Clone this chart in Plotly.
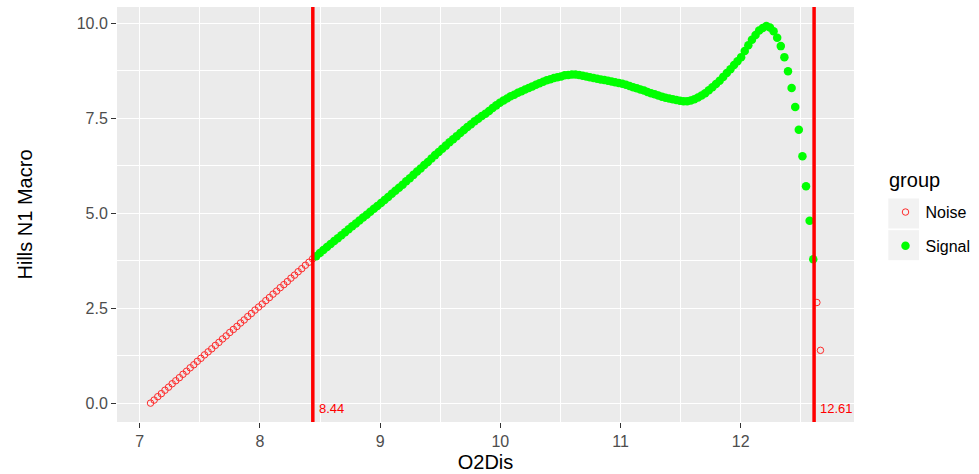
import plotly.graph_objects as go

# ---- data ----
o2dis = [
    7.090, 7.120, 7.150, 7.180, 7.210, 7.240, 7.270, 7.300, 7.330, 7.360,
    7.390, 7.420, 7.450, 7.479, 7.509, 7.539, 7.569, 7.599, 7.629, 7.659,
    7.689, 7.719, 7.749, 7.779, 7.809, 7.839, 7.869, 7.899, 7.929, 7.959,
    7.989, 8.019, 8.049, 8.079, 8.109, 8.139, 8.169, 8.199, 8.228, 8.258,
    8.288, 8.318, 8.348, 8.378, 8.408, 8.438, 8.468, 8.498, 8.528, 8.558,
    8.588, 8.618, 8.648, 8.678, 8.708, 8.738, 8.768, 8.798, 8.828, 8.858,
    8.888, 8.918, 8.948, 8.977, 9.007, 9.037, 9.067, 9.097, 9.127, 9.157,
    9.187, 9.217, 9.247, 9.277, 9.307, 9.337, 9.367, 9.397, 9.427, 9.457,
    9.487, 9.517, 9.547, 9.577, 9.607, 9.637, 9.667, 9.697, 9.726, 9.756,
    9.786, 9.816, 9.846, 9.876, 9.906, 9.936, 9.966, 9.996, 10.026, 10.056,
    10.086, 10.116, 10.146, 10.176, 10.206, 10.236, 10.266, 10.296, 10.326, 10.356,
    10.386, 10.416, 10.446, 10.475, 10.505, 10.535, 10.565, 10.595, 10.625, 10.655,
    10.685, 10.715, 10.745, 10.775, 10.805, 10.835, 10.865, 10.895, 10.925, 10.955,
    10.985, 11.015, 11.045, 11.075, 11.105, 11.135, 11.165, 11.195, 11.224, 11.254,
    11.284, 11.314, 11.344, 11.374, 11.404, 11.434, 11.464, 11.494, 11.524, 11.554,
    11.584, 11.614, 11.644, 11.674, 11.704, 11.734, 11.764, 11.794, 11.824, 11.854,
    11.884, 11.914, 11.944, 11.973, 12.003, 12.033, 12.063, 12.093, 12.123, 12.153,
    12.183, 12.213, 12.243, 12.273, 12.303, 12.333, 12.363, 12.393, 12.423, 12.453,
    12.483, 12.513, 12.543, 12.573, 12.603, 12.633, 12.663,
]

hills_n1_macro = [
    0.00, 0.08, 0.17, 0.25, 0.34, 0.42, 0.51, 0.59, 0.67, 0.76,
    0.84, 0.93, 1.01, 1.10, 1.18, 1.27, 1.35, 1.43, 1.52, 1.60,
    1.69, 1.77, 1.86, 1.94, 2.02, 2.11, 2.19, 2.28, 2.36, 2.45,
    2.53, 2.61, 2.70, 2.78, 2.87, 2.95, 3.04, 3.12, 3.20, 3.29,
    3.37, 3.46, 3.54, 3.63, 3.71, 3.80, 3.87, 3.95, 4.03, 4.11,
    4.19, 4.27, 4.34, 4.42, 4.50, 4.58, 4.66, 4.73, 4.81, 4.89,
    4.96, 5.04, 5.12, 5.19, 5.27, 5.35, 5.43, 5.51, 5.59, 5.67,
    5.75, 5.84, 5.92, 6.01, 6.10, 6.18, 6.27, 6.35, 6.44, 6.53,
    6.61, 6.70, 6.78, 6.87, 6.95, 7.03, 7.11, 7.19, 7.27, 7.34,
    7.42, 7.49, 7.56, 7.62, 7.69, 7.77, 7.84, 7.91, 7.97, 8.02,
    8.08, 8.12, 8.17, 8.21, 8.26, 8.30, 8.34, 8.38, 8.42, 8.46,
    8.50, 8.53, 8.56, 8.58, 8.60, 8.63, 8.64, 8.65, 8.65, 8.64,
    8.62, 8.60, 8.58, 8.56, 8.54, 8.52, 8.51, 8.49, 8.47, 8.45,
    8.43, 8.41, 8.38, 8.35, 8.32, 8.29, 8.26, 8.23, 8.19, 8.16,
    8.13, 8.10, 8.07, 8.04, 8.02, 8.00, 7.98, 7.96, 7.95, 7.95,
    7.97, 8.00, 8.05, 8.10, 8.16, 8.24, 8.32, 8.40, 8.49, 8.59,
    8.69, 8.79, 8.90, 9.00, 9.11, 9.27, 9.42, 9.57, 9.69, 9.81,
    9.88, 9.93, 9.89, 9.79, 9.62, 9.40, 9.11, 8.74, 8.30, 7.80,
    7.20, 6.50, 5.71, 4.80, 3.79, 2.65, 1.39,
]

lower_cut = 8.44
upper_cut = 12.61
cut_values = [lower_cut, upper_cut]
cut_labels = ["8.44", "12.61"]

x_ticks = [7, 8, 9, 10, 11, 12]
y_ticks = [0.0, 2.5, 5.0, 7.5, 10.0]
y_tick_labels = ["0.0", "2.5", "5.0", "7.5", "10.0"]

group_names = ["Noise", "Signal"]
group_of = ["Noise" if (v < lower_cut or v > upper_cut) else "Signal" for v in o2dis]

# ---- figure ----
FONT = "Liberation Sans, Arial, sans-serif"
fig = go.Figure()

styles = {
    "Noise": dict(symbol="circle-open", size=6.5, color="#FF2A2A", line=dict(width=1, color="#FF2A2A")),
    "Signal": dict(symbol="circle", size=8.5, color="#00FF00", line=dict(width=0)),
}
for g in group_names:
    xs = [x for x, gg in zip(o2dis, group_of) if gg == g]
    ys = [y for y, gg in zip(hills_n1_macro, group_of) if gg == g]
    fig.add_trace(go.Scatter(
        x=xs, y=ys, mode="markers", name=g, legendgroup=g,
        marker=styles[g], hoverinfo="x+y",
    ))

for v, lab in zip(cut_values, cut_labels):
    fig.add_shape(type="line", xref="x", yref="paper", x0=v, x1=v, y0=0, y1=1,
                  line=dict(color="#FF0000", width=3.5), layer="above")
    fig.add_annotation(x=v, y=-0.13, xref="x", yref="y", text=lab, showarrow=False,
                       xanchor="left", yanchor="middle", xshift=4,
                       font=dict(family=FONT, size=13, color="#FF0000"))

# pixel geometry of the panel
L, R, T, B = 117, 854, 7, 421.7
W, H = R - L, B - T
def px_to_paper(px, py):
    return (px - L) / W, (B - py) / H

# legend key backgrounds (ggplot-style grey boxes)
for (y0p, y1p) in [(198.3, 228.3), (230.0, 260.0)]:
    xa, ya = px_to_paper(888.3, y1p)
    xb, yb = px_to_paper(919.0, y0p)
    fig.add_shape(type="rect", xref="paper", yref="paper", x0=xa, x1=xb, y0=ya, y1=yb,
                  fillcolor="#F2F2F2", line=dict(width=0), layer="below")

# legend title
tx, ty = px_to_paper(887, 180)
fig.add_annotation(x=tx, y=ty, xref="paper", yref="paper", text="group", showarrow=False,
                   xanchor="left", yanchor="middle",
                   font=dict(family=FONT, size=20, color="black"))

lx, ly = px_to_paper(885.5, 195)
fig.update_layout(
    width=979, height=474,
    margin=dict(l=L, r=979 - R, t=T, b=474 - B, autoexpand=False),
    paper_bgcolor="white", plot_bgcolor="#EBEBEB",
    font=dict(family=FONT, size=16, color="#4D4D4D"),
    showlegend=True,
    legend=dict(
        font=dict(family=FONT, size=16, color="black"),
        x=lx, xanchor="left",
        y=ly, yanchor="top",
        bgcolor="rgba(0,0,0,0)", borderwidth=0,
        tracegroupgap=10, itemsizing="trace",
    ),
    xaxis=dict(
        range=[6.811, 12.942], tickvals=x_ticks, ticktext=[str(t) for t in x_ticks],
        showgrid=True, gridcolor="white", gridwidth=1.3, zeroline=False, showline=False,
        ticks="outside", ticklen=5, tickwidth=1.1, tickcolor="#333333",
        tickfont=dict(family=FONT, size=16, color="#4D4D4D"),
        minor=dict(dtick=0.5, tick0=0, showgrid=True, gridcolor="white", gridwidth=0.6, ticks=""),
        title=dict(text="O2Dis", font=dict(family=FONT, size=20, color="black"), standoff=5),
        automargin=False,
    ),
    yaxis=dict(
        range=[-0.497, 10.43], tickvals=y_ticks, ticktext=y_tick_labels,
        showgrid=True, gridcolor="white", gridwidth=1.3, zeroline=False, showline=False,
        ticks="outside", ticklen=5, tickwidth=1.1, tickcolor="#333333",
        tickfont=dict(family=FONT, size=16, color="#4D4D4D"),
        minor=dict(dtick=1.25, tick0=0, showgrid=True, gridcolor="white", gridwidth=0.6, ticks=""),
        title=dict(text="Hills N1 Macro", font=dict(family=FONT, size=20, color="black"), standoff=38),
        automargin=False,
    ),
)

fig.write_html("out.html")
